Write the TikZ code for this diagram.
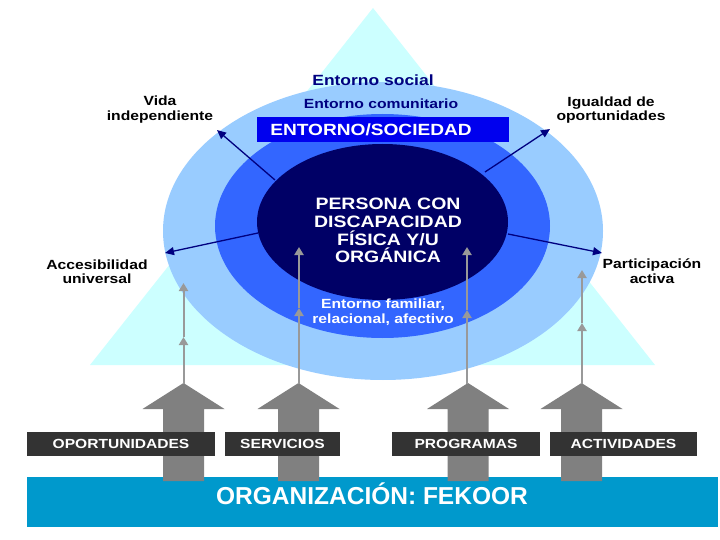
\documentclass[tikz,border=0pt]{standalone}
\usepackage{fontspec}
\setmainfont{Liberation Sans}
\newfontfamily\widefont{Liberation Sans}[FakeStretch=1.18]
\usetikzlibrary{arrows.meta,shapes.geometric}
\definecolor{tri}{HTML}{CCFFFF}
\definecolor{outerE}{HTML}{99CCFF}
\definecolor{midE}{HTML}{3366FF}
\definecolor{innerE}{HTML}{000066}
\definecolor{boxblue}{HTML}{0000EE}
\definecolor{bandblue}{HTML}{0099CC}
\definecolor{darkbox}{HTML}{333333}
\definecolor{bigarrow}{HTML}{808080}
\definecolor{thinarrow}{HTML}{999999}
\definecolor{navy}{HTML}{000080}
\definecolor{textblue}{HTML}{000080}
\tikzset{
  lbl/.style={align=center, inner sep=0pt, font={\widefont\bfseries\fontsize{13.3}{14.5}\selectfont}},
  envtext/.style={inner sep=0pt, text=textblue},
  wtext/.style={inner sep=0pt, text=white, align=center},
  darklbl/.style={fill=darkbox, text=white, inner sep=0pt, minimum height=24pt,
    font={\widefont\bfseries\fontsize{13.2}{14}\selectfont}},
  navyarrow/.style={draw=navy, line width=1.3pt, -{Triangle[length=9pt,width=8pt]}},
  thinarrow/.style={draw=thinarrow, line width=2pt, -{Triangle[length=8pt,width=9pt]}},
}
\newcommand{\bigarr}[1]{%
  \fill[bigarrow] (#1-20.5,481) -- (#1-20.5,409) -- (#1-41,409) -- (#1,383) --
    (#1+41,409) -- (#1+20.5,409) -- (#1+20.5,481) -- cycle;}
\begin{document}
\begin{tikzpicture}[x=1pt,y=-1pt]
\useasboundingbox (0,0) rectangle (720,540);
\fill[white] (0,0) rectangle (720,540);
% triangle
\fill[tri] (373,8) -- (655,365) -- (90,365) -- cycle;
% ellipses
\fill[outerE] (383,231) ellipse [x radius=220, y radius=149];
\fill[midE] (382.5,226) ellipse [x radius=167.5, y radius=112];
\node[ellipse, fill=innerE, minimum width=251pt, minimum height=156pt, inner sep=0pt] (inner) at (382.5,222) {};
% entorno/sociedad box
\fill[boxblue] (257,117) rectangle (509,142);
\node[wtext, font={\widefont\bfseries\fontsize{16.2}{18}\selectfont}] (soc) at (371,129.5) {ENTORNO/SOCIEDAD};
% environment texts
\node[envtext, font={\widefont\bfseries\fontsize{14.8}{16}\selectfont}] (esocial) at (373,80) {Entorno social};
\node[envtext, font={\widefont\bfseries\fontsize{13.3}{15}\selectfont}] (ecom) at (381,104) {Entorno comunitario};
\node[wtext, font={\widefont\bfseries\fontsize{16.5}{17.7}\selectfont}] (persona) at (388,230.5)
  {PERSONA CON\\DISCAPACIDAD\\FÍSICA Y/U\\ORGÁNICA};
\node[wtext, font={\widefont\bfseries\fontsize{13.3}{14.5}\selectfont}] (efam) at (383,312)
  {Entorno familiar,\\relacional, afectivo};
% outer labels
\node[lbl] (vida) at (160,109.5) {Vida\\independiente};
\node[lbl] (igual) at (611,110) {Igualdad de\\oportunidades};
\node[lbl] (acces) at (97,271.5) {Accesibilidad\\universal};
\node[lbl] (parti) at (652,271) {Participación\\activa};
% navy arrows
\coordinate (s1) at (275,180); \coordinate (t1) at (217,130);
\coordinate (s2) at (485,172); \coordinate (t2) at (550,129);
\coordinate (s3) at (258,233); \coordinate (t3) at (165,253);
\coordinate (s4) at (508,234); \coordinate (t4) at (602,253);
\draw[navyarrow] (s1) -- (t1);
\draw[navyarrow] (s2) -- (t2);
\draw[navyarrow] (s3) -- (t3);
\draw[navyarrow] (s4) -- (t4);
% band
\node[fill=bandblue, minimum width=691pt, minimum height=50pt, inner sep=0pt] (org) at (372.5,502) {};
% big arrows
\bigarr{183.5}
\bigarr{298.5}
\bigarr{468}
\bigarr{581.5}
% thin arrows
\coordinate (a1) at (183.5,384); \coordinate (m1) at (183.5,337); \coordinate (u1) at (183.5,283);
\coordinate (a2) at (299,384); \coordinate (m2) at (299,308); \coordinate (u2) at (299,247);
\coordinate (a3) at (467,384); \coordinate (m3) at (467,310); \coordinate (u3) at (467,247);
\coordinate (a4) at (582,384); \coordinate (m4) at (582,323); \coordinate (u4) at (582,270);
\foreach \i in {1,2,3,4}{
  \draw[thinarrow] (a\i) -- (m\i);
  \draw[thinarrow] (m\i) -- (u\i);
}
% dark boxes
\node[darklbl, minimum width=188pt] (opo) at (121,444) {OPORTUNIDADES};
\node[darklbl, minimum width=115pt] (ser) at (282.5,444) {SERVICIOS};
\node[darklbl, minimum width=148pt] (pro) at (466,444) {PROGRAMAS};
\node[darklbl, minimum width=147pt] (act) at (623.5,444) {ACTIVIDADES};
% organisation text
\node[wtext, font={\bfseries\fontsize{24.5}{26}\selectfont}] (orgtext) at (372,494) {ORGANIZACIÓN: FEKOOR};
\end{tikzpicture}
\end{document}
